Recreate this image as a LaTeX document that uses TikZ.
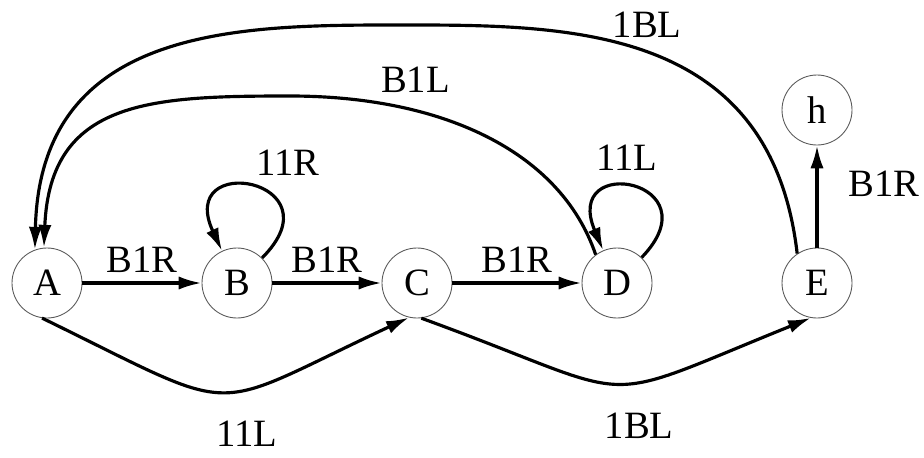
\documentclass[tikz,border=0pt]{standalone}
\usepackage{fontspec}
\setmainfont{Liberation Serif}
\usetikzlibrary{arrows.meta}

\begin{document}
\begin{tikzpicture}[node distance=3.8cm, >={Latex[length=13pt,width=7.5pt]}, every node/.style={font=\fontsize{22}{26}\selectfont}]
    \tikzstyle{state} = [circle, minimum size=1.4cm, inner sep=0pt, draw=black!65, line width=0.5pt]
    \tikzstyle{trans} = [->, line width=1.8pt]
    \tikzstyle{tlabel} = [inner sep=1pt]

    \useasboundingbox (-0.94,-3.48) rectangle (17.54,5.66);

    % States
    \node [state] (A) {A};
    \node [state, right of=A] (B) {B};
    \node [state, right of=B, xshift=-0.2cm] (C) {C};
    \node [state, right of=C, xshift=0.2cm] (D) {D};
    \node [state, right of=D, xshift=0.2cm] (E) {E};
    \node [state, above of=E, yshift=-0.34cm] (h) {h};

    % Tops of the two long arcs back to A
    \coordinate (topO) at (6.86,5.16);
    \coordinate (topI) at (4.86,3.74);

    % Straight moves to the right
    \draw [trans] (A) -- node[tlabel, midway, above=4pt] (lAB) {B1R} (B);
    \draw [trans] (B) -- node[tlabel, midway, above=4pt] (lBC) {B1R} (C);
    \draw [trans] (C) -- node[tlabel, midway, above=4pt] (lCD) {B1R} (D);
    \draw [trans] (E) -- node[tlabel, pos=0.62, right=16pt] (lEh) {B1R} (h);

    % Self loops
    \draw [trans] (B.45) to[out=45, in=115, looseness=7] node[tlabel, above=5pt, xshift=0.68cm] (lBB) {11R} (B.115);
    \draw [trans] (D.46) to[out=46, in=113, looseness=7] node[tlabel, above=8pt, xshift=-0.15cm] (lDD) {11L} (D.113);

    % Arcs below
    \draw [trans] (A.-98) to[out=-26, in=-155, looseness=1.6] node[tlabel, midway, below=15pt, xshift=0.44cm] (lAC) {11L} (C.-103);
    \draw [trans] (C.-83) to[out=-20, in=-158, looseness=1.6] node[tlabel, midway, below=15pt, xshift=0.44cm] (lCE) {1BL} (E.-100);

    % Arcs back to A
    \draw [trans] (D.127) .. controls (10.26,2.66) and (7.86,3.74) .. (topI)
        node[tlabel, pos=0.7, above=8pt] (lDA) {B1L}
        .. controls (2.06,3.74) and (0.06,3.66) .. (A.95);
    \draw [trans] (E.124) .. controls (14.46,5.26) and (10.26,5.16) .. (topO)
        node[tlabel, pos=0.5, above=6pt] (lEA) {1BL}
        .. controls (3.66,5.16) and (-0.14,5.06) .. (A.110);
\end{tikzpicture}
\end{document}
